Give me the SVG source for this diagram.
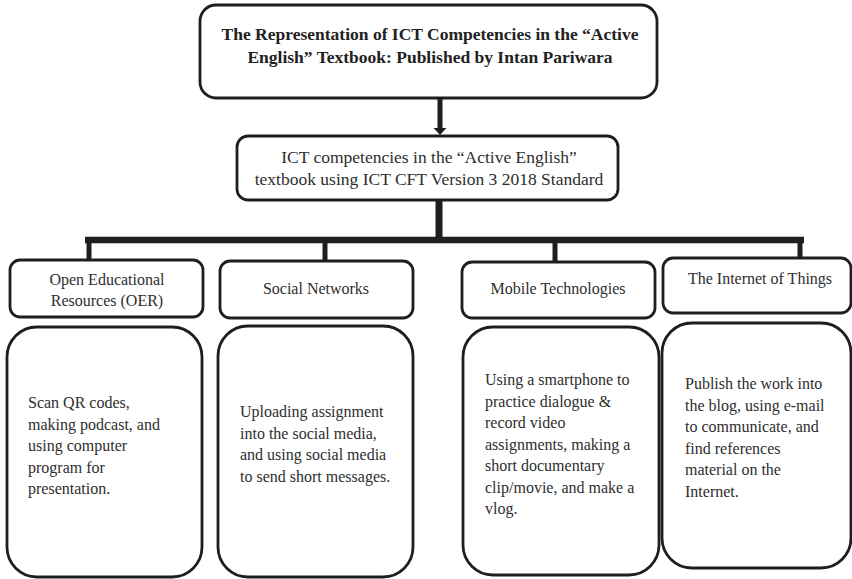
<svg xmlns="http://www.w3.org/2000/svg" width="852" height="579" viewBox="0 0 852 579">
<defs>
<style>
.bx{fill:#fff;stroke:#1e1e1e;stroke-width:2.8}
.tx{font-family:'Liberation Serif','DejaVu Serif',serif;fill:#2e2e2e;font-size:16px}
.c{text-anchor:middle}
.b{font-weight:bold;font-size:17.5px;fill:#222}
.m{font-size:17.5px}
.ln{stroke:#1e1e1e;fill:none}
</style>
<marker id="ah" viewBox="0 0 7 13" refX="0" refY="6.5" markerWidth="1.4" markerHeight="2.6" orient="auto" markerUnits="strokeWidth">
<path d="M0,0 L7,6.5 L0,13 Z" fill="#1e1e1e"/>
</marker>
</defs>
<rect width="852" height="579" fill="#fff"/>
<g id="connectors">
<line class="ln" x1="440" y1="99" x2="440" y2="128" stroke-width="5" marker-end="url(#ah)"/>
<line class="ln" x1="439" y1="201" x2="439" y2="240" stroke-width="7"/>
<line class="ln" x1="85" y1="240" x2="804" y2="240" stroke-width="6.5"/>
<line class="ln" x1="89" y1="240" x2="89" y2="261" stroke-width="5"/>
<line class="ln" x1="325" y1="240" x2="325" y2="262" stroke-width="5"/>
<line class="ln" x1="555" y1="240" x2="555" y2="263" stroke-width="5"/>
<line class="ln" x1="800" y1="240" x2="800" y2="259" stroke-width="5"/>
</g>
<g font-family="'Liberation Serif','DejaVu Serif',serif">
<g id="title">
<rect class="bx" x="200" y="5" width="457" height="93" rx="16" stroke-width="3"/>
<text class="tx b c" x="430" y="40">The Representation of ICT Competencies in the “Active</text>
<text class="tx b c" x="430" y="63">English” Textbook: Published by Intan Pariwara</text>
</g>
<g id="standard">
<rect class="bx" x="237" y="136" width="381" height="64" rx="11" stroke-width="3"/>
<text class="tx m c" x="429" y="163">ICT competencies in the “Active English”</text>
<text class="tx m c" x="429" y="185">textbook using ICT CFT Version 3 2018 Standard</text>
</g>
<g id="oer">
<rect class="bx" x="10" y="260" width="193" height="57" rx="10"/>
<text class="tx c" x="107" y="285">Open Educational</text>
<text class="tx c" x="107" y="306">Resources (OER)</text>
</g>
<g id="social">
<rect class="bx" x="220" y="261" width="193" height="57" rx="10"/>
<text class="tx c" x="316" y="294">Social Networks</text>
</g>
<g id="mobile">
<rect class="bx" x="462" y="262" width="193" height="56" rx="10"/>
<text class="tx c" x="558" y="294">Mobile Technologies</text>
</g>
<g id="iot">
<rect class="bx" x="663" y="258" width="188" height="55" rx="10"/>
<text class="tx c" x="760" y="284">The Internet of Things</text>
</g>
<g id="oer-detail">
<rect class="bx" x="7" y="327" width="195" height="250" rx="30"/>
<text class="tx" x="28" y="408">Scan QR codes,</text>
<text class="tx" x="28" y="429.5">making podcast, and</text>
<text class="tx" x="28" y="451">using computer</text>
<text class="tx" x="28" y="472.5">program for</text>
<text class="tx" x="28" y="494">presentation.</text>
</g>
<g id="social-detail">
<rect class="bx" x="218" y="326" width="195" height="251" rx="30"/>
<text class="tx" x="240" y="417">Uploading assignment</text>
<text class="tx" x="240" y="438.5">into the social media,</text>
<text class="tx" x="240" y="460">and using social media</text>
<text class="tx" x="240" y="481.5">to send short messages.</text>
</g>
<g id="mobile-detail">
<rect class="bx" x="463" y="327" width="196" height="248" rx="30"/>
<text class="tx" x="485" y="385">Using a smartphone to</text>
<text class="tx" x="485" y="406.5">practice dialogue &amp;</text>
<text class="tx" x="485" y="428">record video</text>
<text class="tx" x="485" y="449.5">assignments, making a</text>
<text class="tx" x="485" y="471">short documentary</text>
<text class="tx" x="485" y="492.5">clip/movie, and make a</text>
<text class="tx" x="485" y="514">vlog.</text>
</g>
<g id="iot-detail">
<rect class="bx" x="662" y="323" width="189" height="245" rx="30"/>
<text class="tx" x="685" y="389">Publish the work into</text>
<text class="tx" x="685" y="410.5">the blog, using e-mail</text>
<text class="tx" x="685" y="432">to communicate, and</text>
<text class="tx" x="685" y="453.5">find references</text>
<text class="tx" x="685" y="475">material on the</text>
<text class="tx" x="685" y="496.5">Internet.</text>
</g>
</g>
</svg>
